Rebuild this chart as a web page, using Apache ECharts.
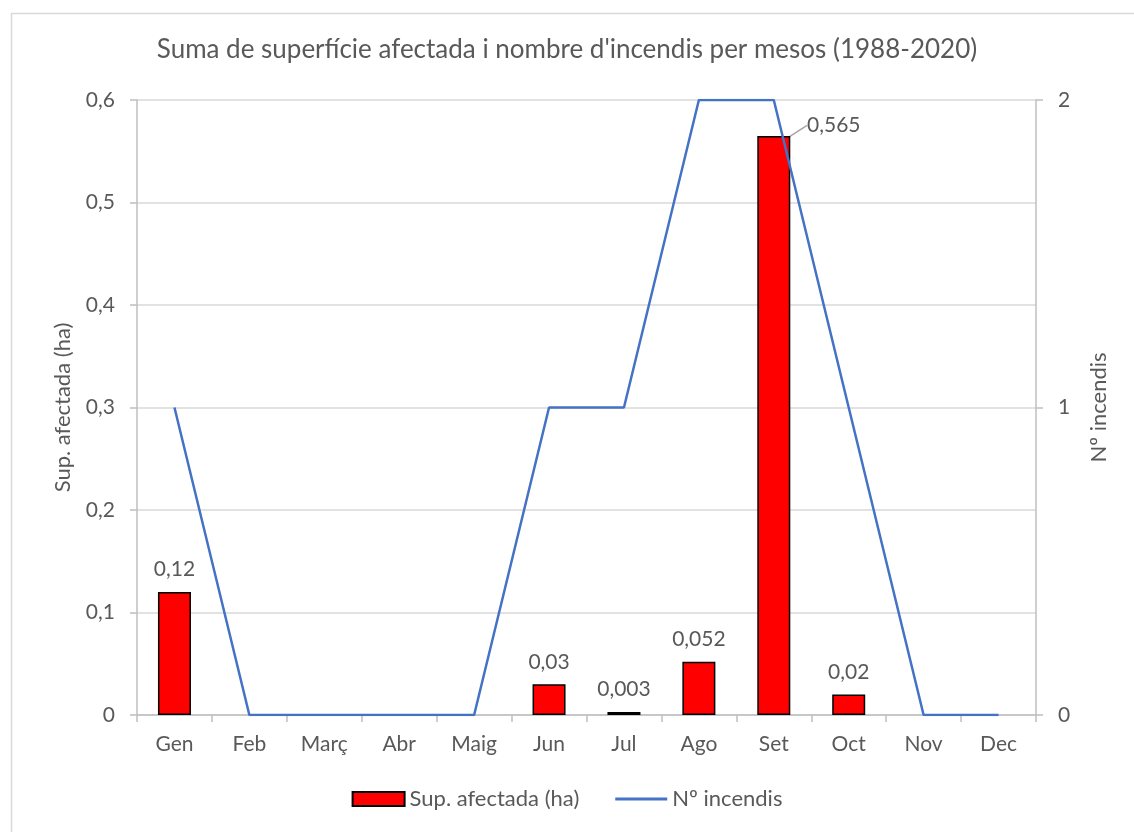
<!DOCTYPE html>
<html>
<head>
<meta charset="utf-8">
<script src="https://cdn.jsdelivr.net/npm/echarts@6/dist/echarts.min.js"></script>
<style>
    html, body { margin: 0; padding: 0; background: #fff; }
    #chart { width: 1134px; height: 832px; }
</style>
</head>
<body>
<div id="chart"></div>
<script>
var months = ['Gen', 'Feb', 'Març', 'Abr', 'Maig', 'Jun', 'Jul', 'Ago', 'Set', 'Oct', 'Nov', 'Dec'];
var supAfectada = [0.12, 0, 0, 0, 0, 0.03, 0.003, 0.052, 0.565, 0.02, 0, 0];
var numIncendis = [1, 0, 0, 0, 0, 1, 1, 2, 2, 1, 0, 0];

var textColor = '#595959';
var fontFamily = 'Lato, sans-serif';

// format amb coma decimal
function comma(v) {
    return String(v).replace('.', ',');
}

// barres: les de valor 0 no es dibuixen (sense vora), la de setembre porta línia guia
var barData = supAfectada.map(function (v, i) {
    var item = { value: v };
    if (!v) {
        item.itemStyle = { borderWidth: 0 };
        item.label = { show: false };
    }
    if (i === 8) {
        item.labelLine = { show: true, lineStyle: { color: '#A6A6A6', width: 1.5 } };
    }
    return item;
});

var chart = echarts.init(document.getElementById('chart'));
var option = {
    backgroundColor: '#fff',
    textStyle: { fontFamily: fontFamily, color: textColor },
    title: {
        text: "Suma de superfície afectada i nombre d'incendis per mesos (1988-2020)",
        left: 'center',
        top: 32,
        textStyle: { fontSize: 26, fontWeight: 'normal', color: textColor, fontFamily: fontFamily }
    },
    graphic: [{
        type: 'rect',
        left: 9,
        top: 11,
        shape: { width: 1140, height: 840 },
        style: { fill: 'none', stroke: '#D9D9D9', lineWidth: 1.5 },
        silent: true
    }],
    legend: {
        bottom: 17,
        left: 'center',
        itemWidth: 52,
        itemHeight: 14,
        itemGap: 36,
        textStyle: { fontSize: 22, color: textColor, fontFamily: fontFamily },
        data: [
            { name: 'Sup. afectada (ha)', icon: 'rect' },
            { name: 'Nº incendis', icon: 'path://M0,0 M52,14 M0,5.5 L52,5.5 L52,8.5 L0,8.5 Z', itemStyle: { color: '#4472C4' } }
        ]
    },
    grid: { left: 137, right: 98, top: 100, bottom: 117 },
    xAxis: {
        type: 'category',
        data: months,
        boundaryGap: true,
        axisLine: { lineStyle: { color: '#BFBFBF', width: 1.5 } },
        axisTick: { show: true, length: 7, lineStyle: { color: '#BFBFBF', width: 1.5 } },
        axisLabel: { fontSize: 21, color: textColor, margin: 19, fontFamily: fontFamily }
    },
    yAxis: [{
        type: 'value',
        min: 0,
        max: 0.6,
        interval: 0.1,
        name: 'Sup. afectada (ha)',
        nameLocation: 'middle',
        nameGap: 63,
        nameRotate: 90,
        nameTextStyle: { fontSize: 22, color: textColor, fontFamily: fontFamily },
        axisLine: { show: true, lineStyle: { color: '#BFBFBF', width: 1.5 } },
        axisTick: { show: true, length: 7, lineStyle: { color: '#BFBFBF', width: 1.5 } },
        axisLabel: { fontSize: 21, color: textColor, margin: 22, fontFamily: fontFamily, formatter: function (v) { return comma(+v.toFixed(1)); } },
        splitLine: { lineStyle: { color: '#D9D9D9', width: 1.5 } }
    }, {
        type: 'value',
        min: 0,
        max: 2,
        interval: 1,
        name: 'Nº incendis',
        nameLocation: 'middle',
        nameGap: 52,
        nameRotate: 90,
        nameTextStyle: { fontSize: 22, color: textColor, fontFamily: fontFamily },
        axisLine: { show: true, lineStyle: { color: '#BFBFBF', width: 1.5 } },
        axisTick: { show: true, length: 7, lineStyle: { color: '#BFBFBF', width: 1.5 } },
        axisLabel: { fontSize: 21, color: textColor, margin: 22, fontFamily: fontFamily },
        splitLine: { show: false }
    }],
    series: [{
        name: 'Sup. afectada (ha)',
        type: 'bar',
        yAxisIndex: 0,
        data: barData,
        barWidth: 33,
        itemStyle: { color: '#FF0000', borderColor: '#000', borderWidth: 1.5 },
        label: {
            show: true,
            position: 'top',
            distance: 12,
            fontSize: 21,
            color: textColor,
            fontFamily: fontFamily,
            formatter: function (p) { return comma(p.value); }
        },
        labelLayout: function (params) {
            if (params.dataIndex === 8) {
                return { dx: 60, dy: 12 };
            }
            return {};
        },
        z: 2
    }, {
        name: 'Nº incendis',
        type: 'line',
        yAxisIndex: 1,
        data: numIncendis,
        symbol: 'none',
        lineStyle: { color: '#4472C4', width: 2.5 },
        itemStyle: { color: '#4472C4' },
        z: 3
    }]
};
chart.setOption(option);
</script>
</body>
</html>
